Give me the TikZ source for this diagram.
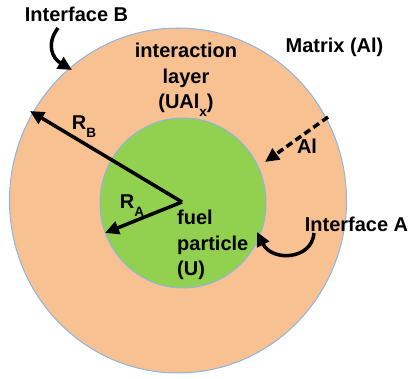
\documentclass[tikz,border=0pt]{standalone}
\usepackage{fontspec}
\setmainfont{Liberation Sans}
\usetikzlibrary{arrows.meta}
\definecolor{layercol}{HTML}{F8C192}
\definecolor{fuelcol}{HTML}{92D050}
\definecolor{edgecol}{HTML}{8EB4E3}
\newcommand{\lowsub}[1]{\raisebox{-0.4em}{\fontsize{13.5}{13.5}\selectfont #1}}
\tikzset{
  lbl/.style={inner sep=0pt, font=\fontsize{20}{25.5}\selectfont\bfseries},
  arr/.style={line width=3.5pt, -{Triangle[length=14pt,width=13pt]}},
}
\begin{document}
\begin{tikzpicture}[x=1pt, y=-1pt]
    \useasboundingbox (0, 0) rectangle (410, 379);
    % circles
    \fill[layercol, draw=edgecol, line width=1pt] (178, 200.5) ellipse [x radius=168.5, y radius=172.5];
    \fill[fuelcol, draw=edgecol, line width=1pt] (183, 203) ellipse [x radius=83, y radius=85];
    % labels
    \node[lbl] at (76.5, 14) (ifb) {Interface B};
    \node[lbl] at (334.5, 47) (mat) {Matrix (Al)};
    \node[lbl, align=center] at (186, 80) (lay) {interaction\\layer\\(UAl\lowsub{x})};
    \node[lbl, align=left, anchor=west] at (177, 245) (fuel) {fuel\\particle\\(U)};
    \node[lbl] at (84, 127) (rb) {R\lowsub{B}};
    \node[lbl] at (132, 206) (ra) {R\lowsub{A}};
    \node[lbl] at (307, 146) (al) {Al};
    \node[lbl] at (356.5, 224) (ifa) {Interface A};
    % radii
    \coordinate (ctr) at (182, 202);
    \coordinate (rbend) at (30, 111);
    \coordinate (raend) at (105, 233);
    \draw[arr] (ctr) -- (rbend);
    \draw[arr] (ctr) -- (raend);
    % interface arrows
    \coordinate (ifbtip) at (72, 70);
    \coordinate (ifatip) at (257, 232);
    \coordinate (alstart) at (328, 117);
    \coordinate (altip) at (265, 162);
    \draw[arr] (58, 28) .. controls (46, 44) and (52, 58) .. (ifbtip);
    \draw[arr] (314, 233) .. controls (312, 260) and (272, 262) .. (ifatip);
    \draw[arr, dash pattern=on 7pt off 4pt] (alstart) -- (altip);
\end{tikzpicture}
\end{document}
